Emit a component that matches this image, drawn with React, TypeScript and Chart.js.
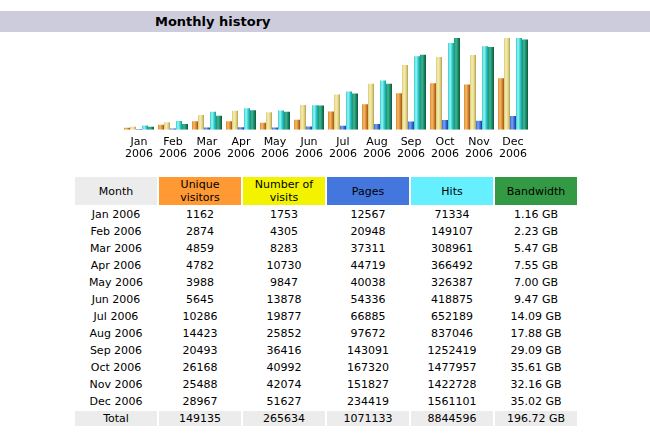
import React, { useEffect, useRef } from "react";
import { Chart, registerables } from "chart.js";

Chart.register(...registerables);

const months = ["Jan", "Feb", "Mar", "Apr", "May", "Jun", "Jul", "Aug", "Sep", "Oct", "Nov", "Dec"];
const year = "2006";
const uniqueVisitors = [1162, 2874, 4859, 4782, 3988, 5645, 10286, 14423, 20493, 26168, 25488, 28967];
const visits = [1753, 4305, 8283, 10730, 9847, 13878, 19877, 25852, 36416, 40992, 42074, 51627];
const pages = [12567, 20948, 37311, 44719, 40038, 54336, 66885, 97672, 143091, 167320, 151827, 234419];
const hits = [71334, 149107, 308961, 366492, 326387, 418875, 652189, 837046, 1252419, 1477957, 1422728, 1561101];
const bandwidthGB = [1.16, 2.23, 5.47, 7.55, 7.0, 9.47, 14.09, 17.88, 29.09, 35.61, 32.16, 35.02];
const totals = ["149135", "265634", "1071133", "8844596", "196.72 GB"];

const headers = [
  { text: ["Month"], bg: "#ECECEC" },
  { text: ["Unique", "visitors"], bg: "#FF9933" },
  { text: ["Number of", "visits"], bg: "#F3F300" },
  { text: ["Pages"], bg: "#4477DD" },
  { text: ["Hits"], bg: "#66F0FF" },
  { text: ["Bandwidth"], bg: "#339944" },
];

const CAT_PCT = 30 / 34;
const FONT = "'DejaVu Sans', Verdana, sans-serif";

const gradFor = (stops: [number, string][]) => (ctx: any) => {
  const chart = ctx.chart;
  const xs = chart.scales && chart.scales.x;
  if (!xs || !chart.chartArea || ctx.dataIndex === undefined) return stops[0][1];
  const center = xs.getPixelForValue(ctx.dataIndex);
  const cat = xs.width / months.length;
  const bw = (cat * CAT_PCT) / 5;
  const left = center - (cat * CAT_PCT) / 2 + ctx.datasetIndex * bw;
  const g = chart.ctx.createLinearGradient(left, 0, left + bw, 0);
  stops.forEach(([o, c]) => g.addColorStop(o, c));
  return g;
};

const orange: [number, string][] = [[0, "#D98A30"], [0.35, "#F7BA6A"], [0.7, "#D48630"], [1, "#9A5510"]];
const yellow: [number, string][] = [[0, "#D8C878"], [0.35, "#F8F0B0"], [0.7, "#E0D288"], [1, "#AE9E50"]];
const blue: [number, string][] = [[0, "#3A6AD0"], [0.35, "#7AA4F2"], [0.7, "#3A6AD0"], [1, "#1A3C99"]];
const cyan: [number, string][] = [[0, "#33CCCC"], [0.35, "#9AF6F6"], [0.7, "#33CCCC"], [1, "#129C9C"]];
const green: [number, string][] = [[0, "#1C9070"], [0.35, "#3CB894"], [0.7, "#1C8262"], [1, "#0A5A40"]];

export default function App() {
  const ref = useRef<HTMLCanvasElement>(null);

  useEffect(() => {
    if (!ref.current) return;
    const common = { categoryPercentage: CAT_PCT, barPercentage: 1, borderWidth: 0 };
    const chart = new Chart(ref.current, {
      type: "bar",
      data: {
        labels: months.map((m) => [m, year]),
        datasets: [
          { label: "Unique visitors", data: uniqueVisitors, yAxisID: "yv", backgroundColor: gradFor(orange), ...common },
          { label: "Number of visits", data: visits, yAxisID: "yv", backgroundColor: gradFor(yellow), ...common },
          { label: "Pages", data: pages, yAxisID: "yh", backgroundColor: gradFor(blue), ...common },
          { label: "Hits", data: hits, yAxisID: "yh", backgroundColor: gradFor(cyan), ...common },
          { label: "Bandwidth", data: bandwidthGB, yAxisID: "yk", backgroundColor: gradFor(green), ...common },
        ],
      },
      options: {
        animation: false,
        responsive: false,
        maintainAspectRatio: false,
        layout: { padding: { left: 122, right: 120, top: 6, bottom: 6 } },
        plugins: { legend: { display: false }, tooltip: { enabled: false }, title: { display: false } },
        scales: {
          x: {
            grid: { display: false, drawTicks: false },
            border: { display: false },
            ticks: {
              color: "#000000",
              padding: 6,
              maxRotation: 0,
              autoSkip: false,
              font: { family: FONT, size: 11, lineHeight: 1.1 },
            },
          },
          yv: { display: false, min: 0, max: Math.max(...visits) },
          yh: { display: false, min: 0, max: Math.max(...hits) },
          yk: { display: false, min: 0, max: Math.max(...bandwidthGB) },
        },
      },
    });
    return () => chart.destroy();
  }, []);

  const rows = months.map((m, i) => [
    `${m} ${year}`,
    String(uniqueVisitors[i]),
    String(visits[i]),
    String(pages[i]),
    String(hits[i]),
    `${bandwidthGB[i].toFixed(2)} GB`,
  ]);

  const cellStyle: React.CSSProperties = {
    width: 82,
    padding: 0,
    textAlign: "center",
    fontFamily: FONT,
    fontSize: 11,
    lineHeight: "13px",
    color: "#000",
  };

  return (
    <div style={{ position: "absolute", left: 0, top: 0, width: 650, height: 435, background: "#fff", overflow: "hidden" }}>
      <div
        style={{
          position: "absolute",
          left: 0,
          top: 11,
          width: 650,
          height: 21,
          background: "#CCCCDD",
          fontFamily: FONT,
          fontWeight: "bold",
          fontSize: 13,
          lineHeight: "21px",
          color: "#000",
        }}
      >
        <span style={{ position: "absolute", left: 155 }}>Monthly history</span>
      </div>
      <canvas ref={ref} width={650} height={140} style={{ position: "absolute", left: 0, top: 32, width: 650, height: 140 }} />
      <table
        style={{
          position: "absolute",
          left: 73,
          top: 175,
          borderCollapse: "separate",
          borderSpacing: 2,
        }}
      >
        <tbody>
          <tr>
            {headers.map((h, i) => (
              <td key={i} style={{ ...cellStyle, height: 28, background: h.bg }}>
                {h.text.map((t, j) => (
                  <div key={j}>{t}</div>
                ))}
              </td>
            ))}
          </tr>
          {rows.map((r, i) => (
            <tr key={i}>
              {r.map((c, j) => (
                <td key={j} style={{ ...cellStyle, height: 15 }}>
                  {c}
                </td>
              ))}
            </tr>
          ))}
          <tr>
            {["Total", ...totals].map((c, j) => (
              <td key={j} style={{ ...cellStyle, height: 15, background: "#ECECEC" }}>
                {c}
              </td>
            ))}
          </tr>
        </tbody>
      </table>
    </div>
  );
}
